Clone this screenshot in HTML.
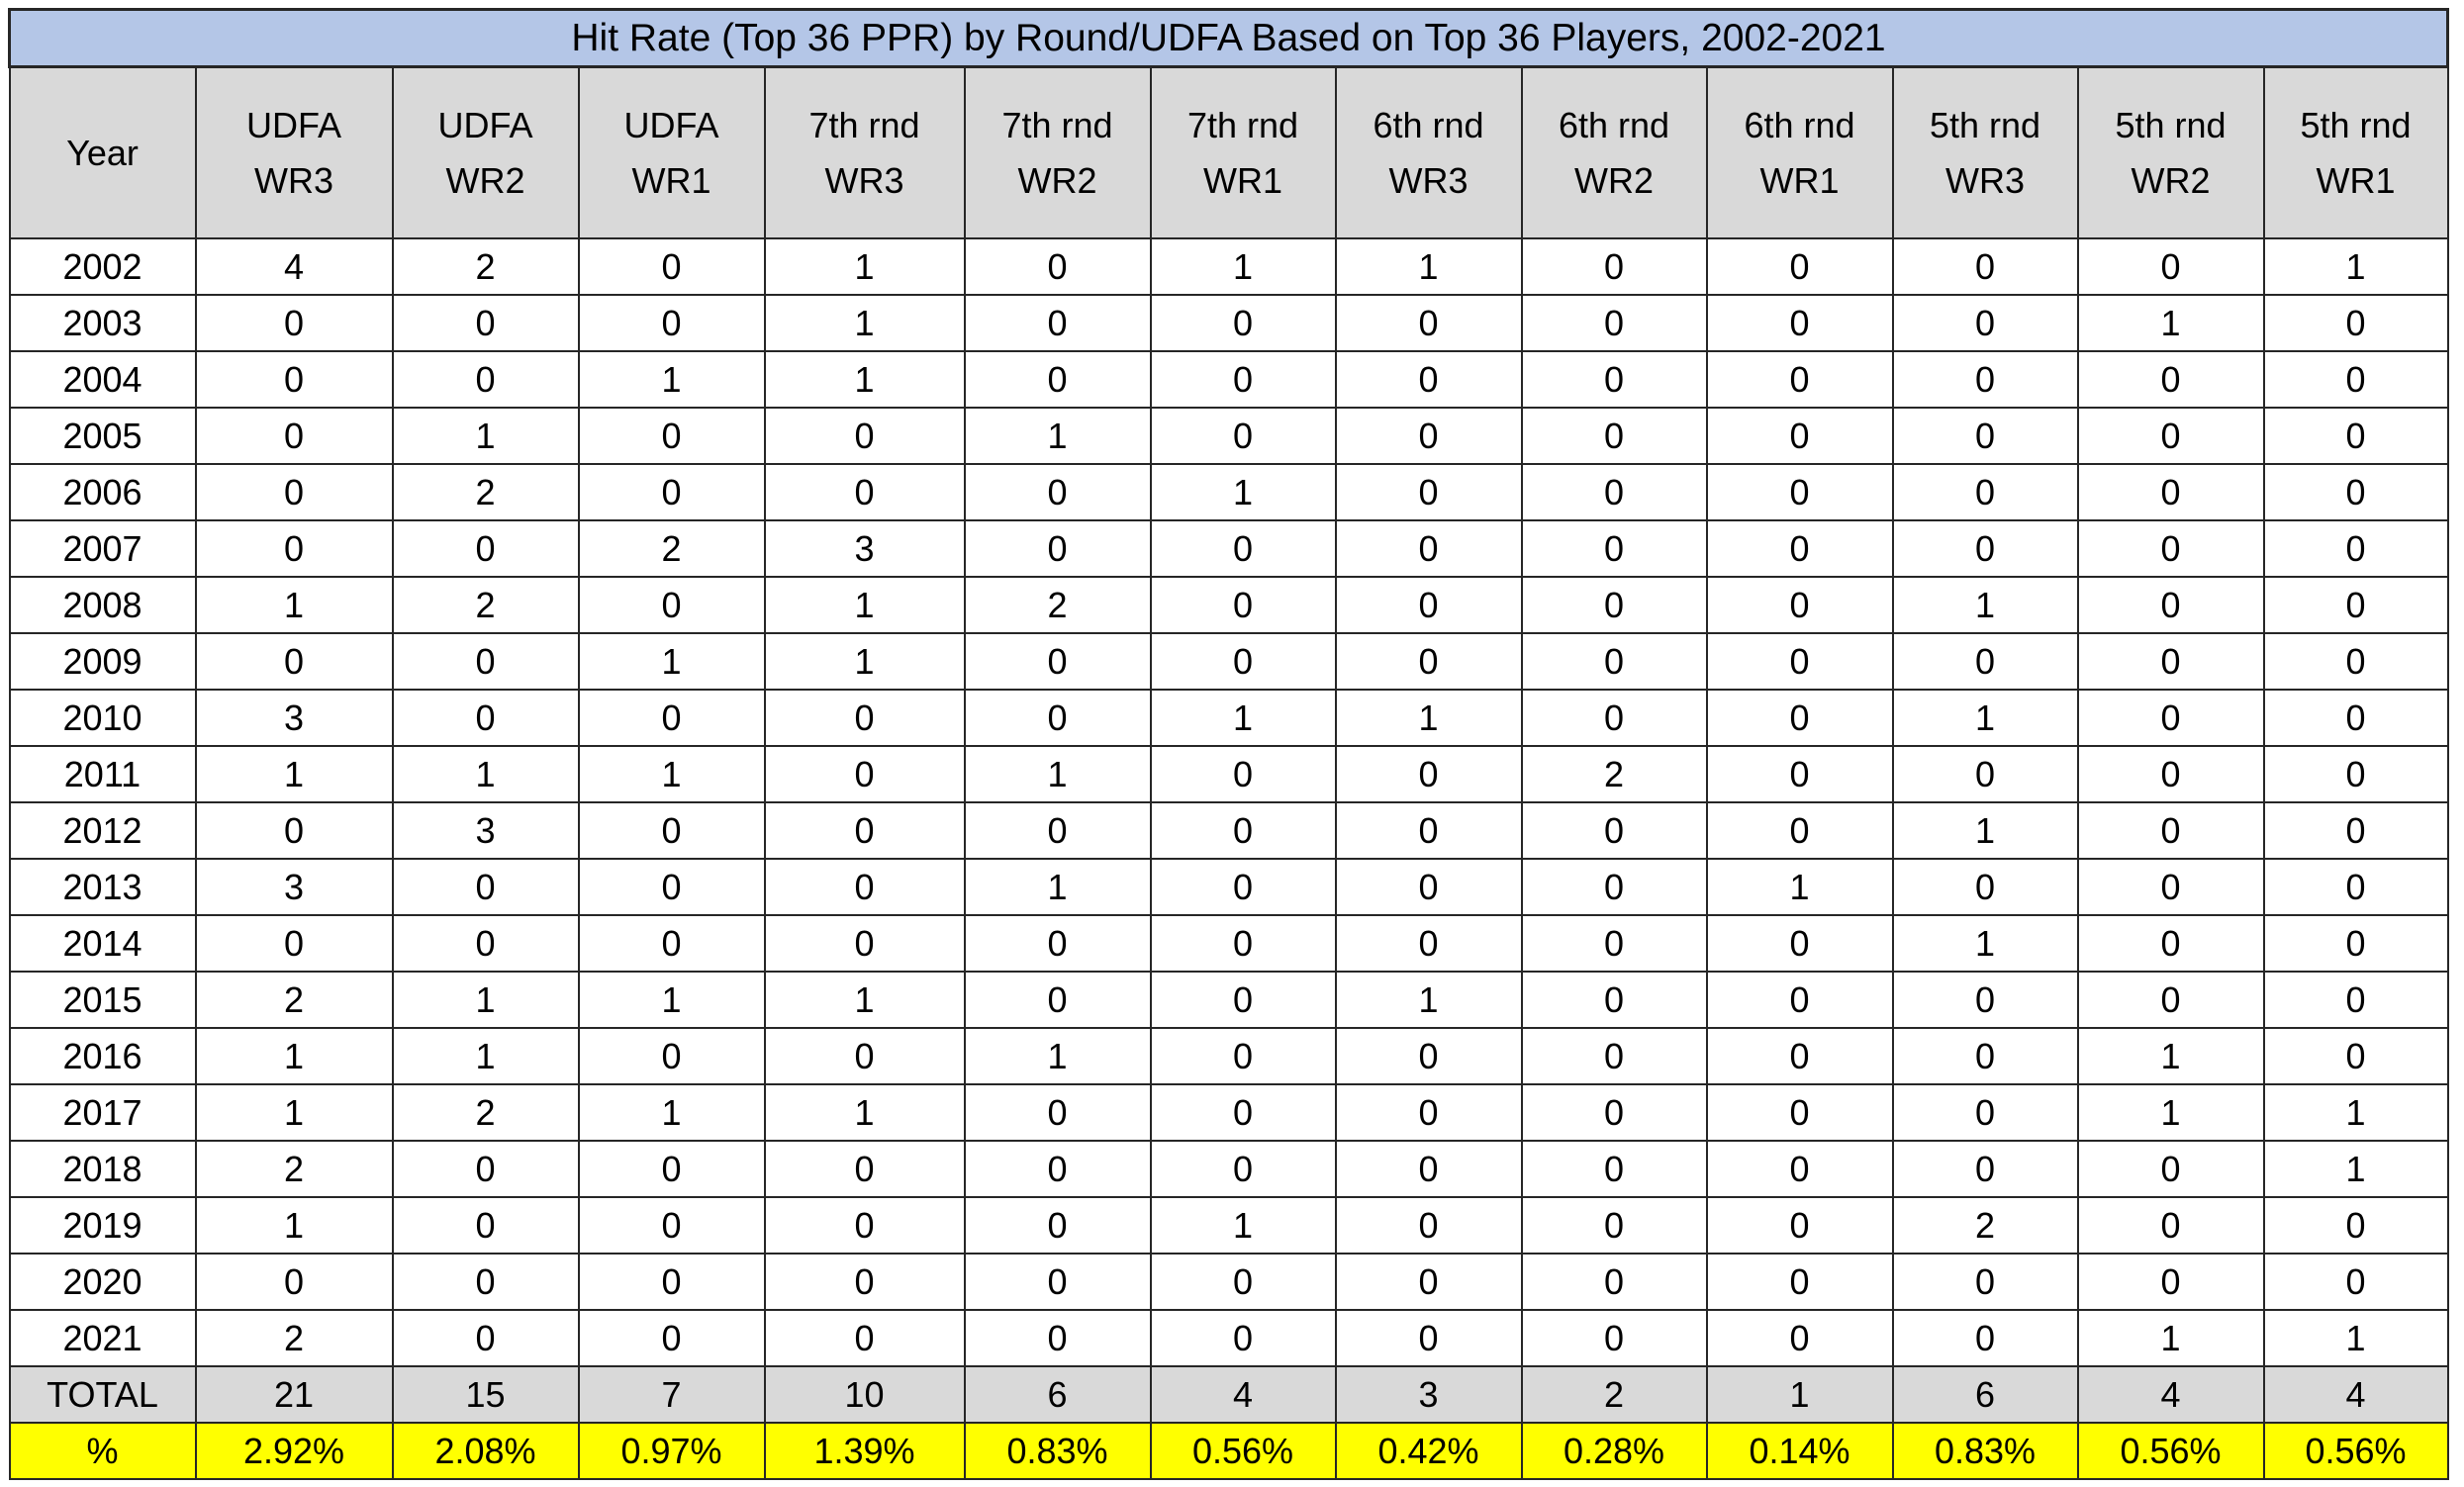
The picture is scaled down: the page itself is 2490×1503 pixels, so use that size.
<!DOCTYPE html>
<html><head><meta charset="utf-8"><style>
html,body{margin:0;padding:0;background:#fff;width:2490px;height:1503px;overflow:hidden}
table{position:absolute;left:8px;top:8px;border-collapse:collapse;table-layout:fixed;font-family:"Liberation Sans",sans-serif;font-size:36px;color:#000}
td{border:2px solid #262626;text-align:center;padding:0;height:55px;line-height:55px;white-space:nowrap;overflow:hidden}
tr.t td{background:#b4c6e7;height:55px;font-size:39px;border:3px solid #262626}
tr.h td{background:#d9d9d9;height:171px;line-height:56px}
tr.tot td{background:#d9d9d9}
tr.pct td{background:#ffff00}
</style></head><body>
<table>
<colgroup><col style="width:188px"><col style="width:199px"><col style="width:188px"><col style="width:188px"><col style="width:202px"><col style="width:188px"><col style="width:187px"><col style="width:188px"><col style="width:187px"><col style="width:188px"><col style="width:187px"><col style="width:188px"><col style="width:186px"></colgroup>
<tr class="t"><td colspan="13">Hit Rate (Top 36 PPR) by Round/UDFA Based on Top 36 Players, 2002-2021</td></tr>
<tr class="h"><td>Year</td><td>UDFA<br>WR3</td><td>UDFA<br>WR2</td><td>UDFA<br>WR1</td><td>7th rnd<br>WR3</td><td>7th rnd<br>WR2</td><td>7th rnd<br>WR1</td><td>6th rnd<br>WR3</td><td>6th rnd<br>WR2</td><td>6th rnd<br>WR1</td><td>5th rnd<br>WR3</td><td>5th rnd<br>WR2</td><td>5th rnd<br>WR1</td></tr>
<tr><td>2002</td><td>4</td><td>2</td><td>0</td><td>1</td><td>0</td><td>1</td><td>1</td><td>0</td><td>0</td><td>0</td><td>0</td><td>1</td></tr>
<tr><td>2003</td><td>0</td><td>0</td><td>0</td><td>1</td><td>0</td><td>0</td><td>0</td><td>0</td><td>0</td><td>0</td><td>1</td><td>0</td></tr>
<tr><td>2004</td><td>0</td><td>0</td><td>1</td><td>1</td><td>0</td><td>0</td><td>0</td><td>0</td><td>0</td><td>0</td><td>0</td><td>0</td></tr>
<tr><td>2005</td><td>0</td><td>1</td><td>0</td><td>0</td><td>1</td><td>0</td><td>0</td><td>0</td><td>0</td><td>0</td><td>0</td><td>0</td></tr>
<tr><td>2006</td><td>0</td><td>2</td><td>0</td><td>0</td><td>0</td><td>1</td><td>0</td><td>0</td><td>0</td><td>0</td><td>0</td><td>0</td></tr>
<tr><td>2007</td><td>0</td><td>0</td><td>2</td><td>3</td><td>0</td><td>0</td><td>0</td><td>0</td><td>0</td><td>0</td><td>0</td><td>0</td></tr>
<tr><td>2008</td><td>1</td><td>2</td><td>0</td><td>1</td><td>2</td><td>0</td><td>0</td><td>0</td><td>0</td><td>1</td><td>0</td><td>0</td></tr>
<tr><td>2009</td><td>0</td><td>0</td><td>1</td><td>1</td><td>0</td><td>0</td><td>0</td><td>0</td><td>0</td><td>0</td><td>0</td><td>0</td></tr>
<tr><td>2010</td><td>3</td><td>0</td><td>0</td><td>0</td><td>0</td><td>1</td><td>1</td><td>0</td><td>0</td><td>1</td><td>0</td><td>0</td></tr>
<tr><td>2011</td><td>1</td><td>1</td><td>1</td><td>0</td><td>1</td><td>0</td><td>0</td><td>2</td><td>0</td><td>0</td><td>0</td><td>0</td></tr>
<tr><td>2012</td><td>0</td><td>3</td><td>0</td><td>0</td><td>0</td><td>0</td><td>0</td><td>0</td><td>0</td><td>1</td><td>0</td><td>0</td></tr>
<tr><td>2013</td><td>3</td><td>0</td><td>0</td><td>0</td><td>1</td><td>0</td><td>0</td><td>0</td><td>1</td><td>0</td><td>0</td><td>0</td></tr>
<tr><td>2014</td><td>0</td><td>0</td><td>0</td><td>0</td><td>0</td><td>0</td><td>0</td><td>0</td><td>0</td><td>1</td><td>0</td><td>0</td></tr>
<tr><td>2015</td><td>2</td><td>1</td><td>1</td><td>1</td><td>0</td><td>0</td><td>1</td><td>0</td><td>0</td><td>0</td><td>0</td><td>0</td></tr>
<tr><td>2016</td><td>1</td><td>1</td><td>0</td><td>0</td><td>1</td><td>0</td><td>0</td><td>0</td><td>0</td><td>0</td><td>1</td><td>0</td></tr>
<tr><td>2017</td><td>1</td><td>2</td><td>1</td><td>1</td><td>0</td><td>0</td><td>0</td><td>0</td><td>0</td><td>0</td><td>1</td><td>1</td></tr>
<tr><td>2018</td><td>2</td><td>0</td><td>0</td><td>0</td><td>0</td><td>0</td><td>0</td><td>0</td><td>0</td><td>0</td><td>0</td><td>1</td></tr>
<tr><td>2019</td><td>1</td><td>0</td><td>0</td><td>0</td><td>0</td><td>1</td><td>0</td><td>0</td><td>0</td><td>2</td><td>0</td><td>0</td></tr>
<tr><td>2020</td><td>0</td><td>0</td><td>0</td><td>0</td><td>0</td><td>0</td><td>0</td><td>0</td><td>0</td><td>0</td><td>0</td><td>0</td></tr>
<tr><td>2021</td><td>2</td><td>0</td><td>0</td><td>0</td><td>0</td><td>0</td><td>0</td><td>0</td><td>0</td><td>0</td><td>1</td><td>1</td></tr>
<tr class="tot"><td>TOTAL</td><td>21</td><td>15</td><td>7</td><td>10</td><td>6</td><td>4</td><td>3</td><td>2</td><td>1</td><td>6</td><td>4</td><td>4</td></tr>
<tr class="pct"><td>%</td><td>2.92%</td><td>2.08%</td><td>0.97%</td><td>1.39%</td><td>0.83%</td><td>0.56%</td><td>0.42%</td><td>0.28%</td><td>0.14%</td><td>0.83%</td><td>0.56%</td><td>0.56%</td></tr>
</table>
</body></html>
